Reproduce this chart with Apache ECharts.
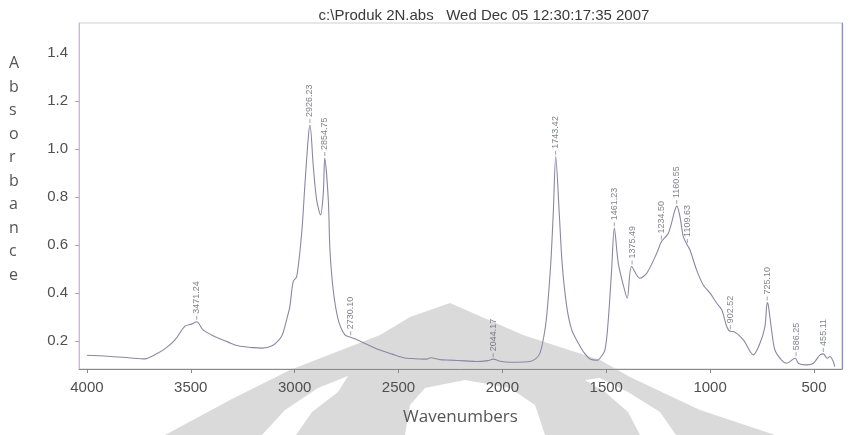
<!DOCTYPE html>
<html><head><meta charset="utf-8">
<script src="https://cdn.jsdelivr.net/npm/echarts@6/dist/echarts.min.js"></script>
<style>html,body{margin:0;padding:0;background:#fff}#c{width:849px;height:435px}</style>
</head><body><div id="c"></div>
<script>
const wavenumbers = [4000,3900,3800,3720,3673,3620,3576,3528,3496,3471,3441,3400,3369,3320,3273,3200,3157,3109,3070,3056,3035,3023,3007,2990,2966,2950,2934,2926,2910,2894,2875,2862,2855,2838,2830,2814,2790,2758,2730,2700,2650,2589,2530,2477,2420,2365,2345,2300,2252,2180,2124,2070,2044,2010,1964,1900,1867,1840,1819,1800,1787,1767,1755,1743,1726,1712,1690,1666,1634,1610,1578,1540,1530,1506,1490,1474,1461,1442,1418,1399,1378,1338,1305,1257,1234,1201,1169,1160,1145,1129,1110,1097,1065,1033,1000,968,944,920,904,888,840,792,760,736,725,720,704,688,656,632,590,575,543,503,471,455,436,423,407,400];
const absorbance = [0.140,0.136,0.130,0.125,0.142,0.170,0.204,0.262,0.270,0.280,0.246,0.225,0.212,0.195,0.180,0.172,0.170,0.180,0.210,0.233,0.300,0.343,0.447,0.468,0.650,0.858,1.050,1.100,0.926,0.788,0.725,0.817,0.962,0.790,0.580,0.410,0.288,0.225,0.215,0.205,0.185,0.162,0.145,0.130,0.126,0.124,0.130,0.122,0.120,0.117,0.114,0.118,0.124,0.115,0.111,0.112,0.114,0.125,0.149,0.220,0.300,0.524,0.732,0.968,0.730,0.520,0.343,0.246,0.190,0.155,0.125,0.120,0.128,0.163,0.288,0.496,0.670,0.524,0.433,0.378,0.510,0.461,0.482,0.565,0.614,0.649,0.746,0.762,0.718,0.635,0.600,0.580,0.496,0.433,0.399,0.357,0.330,0.260,0.240,0.239,0.204,0.142,0.190,0.260,0.360,0.350,0.246,0.162,0.120,0.107,0.128,0.107,0.100,0.107,0.142,0.146,0.128,0.135,0.114,0.093];
const peakLabels = ['3471.24','2926.23','2854.75','2730.10','2044.17','1743.42','1461.23','1375.49','1234.50','1160.55','1109.63','902.52','725.10','586.25','455.11'];
const peakWavenumbers = [3471.24,2926.23,2854.75,2730.10,2044.17,1743.42,1461.23,1375.49,1234.50,1160.55,1109.63,902.52,725.10,586.25,455.11];
const peakAbsorbance = [0.280,1.100,0.962,0.215,0.124,0.968,0.670,0.510,0.614,0.762,0.600,0.240,0.360,0.128,0.146];
const xTickLabels = [4000,3500,3000,2500,2000,1500,1000,500];
const yTickLabels = [0.2,0.4,0.6,0.8,1.0,1.2,1.4];
const yTickMarks = [0.2,0.4,0.6,0.8,1.0,1.2];
const titleText = 'c:\\Produk 2N.abs   Wed Dec 05 12:30:17:35 2007';
const xName = 'Wavenumbers';
const yName = 'Absorbance';

const chart = echarts.init(document.getElementById('c'), null, {renderer: 'canvas'});
const lineData = wavenumbers.map((w, i) => [w, absorbance[i]]);
const peakData = peakWavenumbers.map((w, i) => [w, peakAbsorbance[i]]);
const font = '"Liberation Sans", Arial, sans-serif';
const wmGrey = '#dadada';

chart.setOption({
  animation: false,
  backgroundColor: '#ffffff',
  title: {
    text: titleText, left: 479, top: 3, textAlign: 'center',
    textStyle: {fontSize: 15, fontWeight: 'normal', color: '#3a3a3a', fontFamily: font}
  },
  graphic: [
    {type: 'polygon', z: -5, silent: true,
     shape: {points: [[165,435],[230,400],[290,370],[380,335],[410,317],[450,303],[523,335],[600,360],[630,377],[700,410],[775,435]]},
     style: {fill: wmGrey}},
    {type: 'polygon', z: -4, silent: true,
     shape: {points: [[262,435],[285,410],[318,388],[348,376],[338,392],[312,412],[296,435]]},
     style: {fill: '#ffffff'}},
    {type: 'polygon', z: -4, silent: true,
     shape: {points: [[640,435],[628,412],[605,392],[585,380],[600,378],[628,392],[660,412],[676,435]]},
     style: {fill: '#ffffff'}},
    {type: 'polygon', z: -4, silent: true,
     shape: {points: [[405,435],[410,405],[425,388],[465,380],[510,388],[535,405],[545,435]]},
     style: {fill: '#ffffff'}},
    {type: 'text', z: 5, left: 9, top: 52, silent: true,
     style: {text: yName.split('').join('\n'), fontSize: 16, lineHeight: 23.5, fill: '#555', align: 'center', fontFamily: '"Open Sans", "DejaVu Sans", sans-serif'}}
  ],
  grid: {left: 79, right: 7, top: 23, bottom: 66, show: true, borderColor: '#cfcfcf', borderWidth: 1},
  xAxis: {
    type: 'value', inverse: true, min: 365, max: 4038,
    name: xName, nameLocation: 'middle', nameGap: 40,
    nameTextStyle: {fontSize: 17, color: '#555', fontFamily: '"Open Sans", "DejaVu Sans", sans-serif'},
    axisLine: {show: true, lineStyle: {color: '#8a8a8a', width: 1}},
    axisTick: {show: true, length: 4, customValues: xTickLabels, lineStyle: {color: '#888'}},
    axisLabel: {customValues: xTickLabels, fontSize: 15, color: '#505050', margin: 11, fontFamily: font,
      formatter: v => String(v)},
    splitLine: {show: false}
  },
  yAxis: [{
    type: 'value', min: 0.083, max: 1.525,
    axisLine: {show: true, lineStyle: {color: '#c6b8d6', width: 1}},
    axisTick: {show: true, length: 4, customValues: yTickMarks, lineStyle: {color: '#aaa'}},
    axisLabel: {customValues: yTickLabels, fontSize: 15, color: '#505050', margin: 11, fontFamily: font,
      formatter: v => v.toFixed(1)},
    splitLine: {show: false}
  }, {
    type: 'value', position: 'right', min: 0.083, max: 1.525,
    axisLine: {show: true, lineStyle: {color: '#8c8cd0', width: 1.2}},
    axisTick: {show: false}, axisLabel: {show: false}, splitLine: {show: false}
  }],
  series: [{
    type: 'line', data: lineData, showSymbol: false, smooth: 0.3,
    lineStyle: {color: '#8c86a4', width: 1.1}, z: 3
  }, {
    type: 'scatter', data: peakData, symbol: 'rect', symbolSize: [1, 4], symbolOffset: [0, -4],
    itemStyle: {color: '#8a8a9a'}, z: 4,
    label: {show: true, position: 'top', distance: 2, rotate: 90, align: 'left', verticalAlign: 'middle',
      fontSize: 9, color: '#60646e', fontFamily: font,
      formatter: p => peakLabels[p.dataIndex]}
  }]
});
</script></body></html>
